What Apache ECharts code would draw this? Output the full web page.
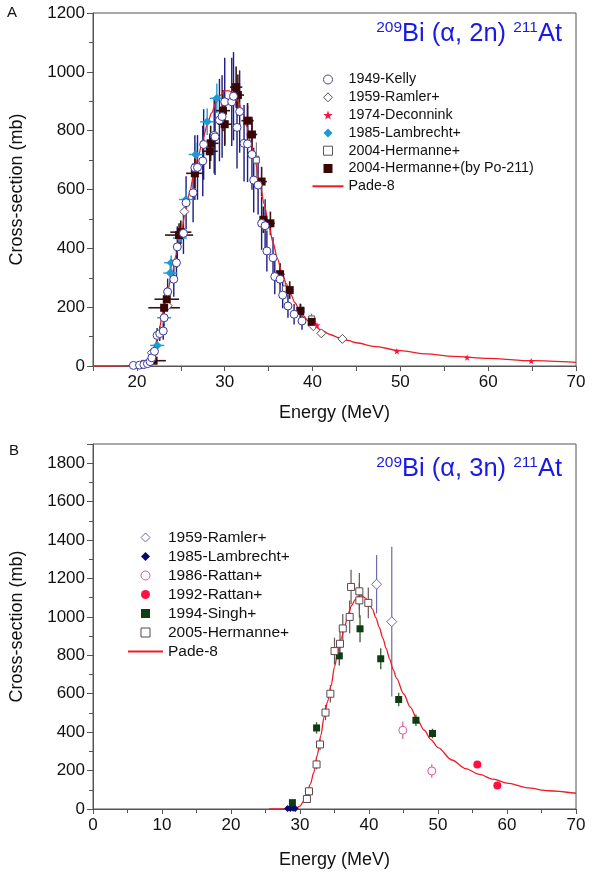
<!DOCTYPE html>
<html><head><meta charset="utf-8">
<script src="https://cdn.jsdelivr.net/npm/echarts@6/dist/echarts.min.js"></script>
<style>html,body{margin:0;padding:0;background:#fff}#c{width:600px;height:874px}</style>
</head><body><div id="c"></div>
<script>
// ---------- Panel A : 209Bi(a,2n)211At  [E, sigma, dE, dSigma] ----------
const kellyA = [[19.6,2,0,2],[20.3,3,0,3],[20.8,5,0,4],[21.2,8,0,6],[21.5,15,0,10],[21.7,28,0,15],[22.0,50,0,20],[22.3,104,0,25],[22.6,110,0,25],[23.0,119,0,30],[23.1,164,0,30],[23.5,252,0,45],[24.2,295,0,60],[24.5,351,0,60],[24.6,405,0,70],[25.3,451,0,70],[25.6,555,0,90],[26.4,589,0,100],[26.6,674,0,110],[26.9,675,0,110],[27.5,697,0,120],[27.6,753,0,120],[28.8,784,0,130],[28.9,779,0,130],[29.4,836,0,140],[29.7,848,0,140],[30.0,898,0,150],[30.8,898,0,150],[31.0,917,0,150],[31.4,811,0,140],[31.7,865,0,140],[32.2,757,0,130],[32.6,755,0,130],[33.1,719,0,120],[33.3,632,0,110],[33.8,615,0,100],[34.2,485,0,90],[34.6,477,0,90],[34.8,391,0,70],[35.5,368,0,70],[35.7,304,0,60],[36.3,295,0,55],[36.6,241,0,45],[37.2,204,0,40],[37.9,176,0,35],[38.8,153,0,30]];
const ramlerA = [[21.7,45,0,0],[23.5,205,0,0],[25.4,525,0,0],[40.1,135,0,0],[41.0,111,0,0],[43.4,92,0,0]];
const deconninkA = [[40.5,139,0,0],[49.6,50,0,0],[57.6,29,0,0],[64.9,17,0,0]];
const lambrechtA = [[22.3,70,0.8,15],[23.1,164,0.8,20],[23.8,316,0.8,25],[23.9,351,0.8,25],[24.9,435,0.8,30],[25.6,566,0.8,35],[26.7,719,0.8,40],[28.0,830,0.8,45],[29.1,910,0.8,50]];
const hermanneA = [[20.3,2,0.3,2],[21.0,8,0.3,4],[21.8,30,0.3,8],[33.6,700,0.3,60],[36.9,262,0.3,25],[38.7,190,0.3,20],[39.9,160,0.3,18]];
const hermannePoA = [[21.9,18,1.4,10],[23.1,198,1.8,40],[23.4,227,1.4,40],[24.8,445,1.6,40],[25.0,455,1.2,40],[26.6,655,1.0,50],[28.3,730,0.9,60],[28.4,757,0.9,60],[29.8,868,0.8,70],[30.0,822,0.8,70],[31.3,948,0.7,70],[31.5,921,0.7,70],[32.6,834,0.7,60],[33.1,787,0.6,60],[34.2,627,0.6,50],[34.4,497,0.5,45],[35.2,485,0.5,40],[36.3,312,0.5,35],[37.4,258,0.4,30],[38.6,187,0.4,25],[39.9,150,0.4,20]];
const padeA = [[15,0],[17,0],[18,0.5],[19,1],[20,4],[21,15],[21.5,30],[22,60],[22.5,120],[23,190],[23.5,255],[24,315],[24.5,380],[25,445],[25.5,520],[26,590],[26.5,655],[27,715],[27.5,770],[28,820],[28.5,860],[29,895],[29.5,920],[30,935],[30.5,935],[31,925],[31.5,900],[32,865],[32.5,815],[33,755],[33.5,690],[34,620],[34.5,550],[35,480],[35.5,420],[36,365],[36.5,320],[37,280],[37.5,245],[38,215],[38.5,190],[39,170],[39.5,153],[40,142],[41,122],[42,107],[43,96],[44,87],[45,79],[47,67],[50,52],[53,41],[56,33],[60,26],[65,18],[70,12]];

// ---------- Panel B : 209Bi(a,3n)211At ----------
const ramlerB = [[41.1,1170,0,152],[43.3,975,0,390]];
const lambrechtB = [[28.2,2,0,0],[28.6,3,0,0],[29.0,4,0,0],[29.3,3,0,0]];
const rattan86B = [[44.9,410,0,45],[49.1,198,0,35]];
const rattan92B = [[55.7,232,0,0],[58.6,122,0,0]];
const singhB = [[28.9,33,0,0],[32.4,422,0,30],[35.7,797,0,50],[38.7,938,0,70],[41.7,782,0,55],[44.3,570,0,35],[46.8,462,0,30],[49.2,393,0,25]];
const hermanneB = [[31.0,52,0.5,15],[31.3,92,0.6,20],[32.4,232,0.5,25],[32.9,336,0.5,30],[33.7,502,0.5,40],[34.4,600,0.5,45],[35.0,822,0.4,70],[35.8,860,0.4,70],[36.2,940,0.4,75],[37.2,1000,0.4,85],[37.4,1156,0.4,90],[38.6,1133,0.4,95],[38.6,1086,0.4,90],[39.9,1073,0.4,80]];
const padeB = [[25.5,0],[28,0],[29,2],[29.5,5],[30,15],[30.5,40],[31,80],[31.5,130],[32,190],[32.5,280],[33,380],[33.5,480],[34,560],[34.5,640],[35,740],[35.5,820],[36,890],[36.5,955],[37,1020],[37.5,1060],[38,1090],[38.5,1108],[39,1110],[39.5,1098],[40,1075],[40.5,1040],[41,995],[41.5,945],[42,890],[42.5,835],[43,780],[43.5,725],[44,680],[45,600],[46,530],[47,465],[48,410],[49,360],[50,320],[52,255],[54,210],[56,180],[58,155],[60,135],[63,110],[66,95],[70,82]];

const FONT = '"Liberation Sans", Arial, Helvetica, sans-serif';
const TXT = '#111';
const AX = '#555';
const DIAMOND = 'path://M0,-1L1,0L0,1L-1,0Z';
const SQUARE = 'path://M0,0L1,0L1,1L0,1Z';
const STAR = 'path://M0,-10L2.35,-3.24L9.51,-3.09L3.8,1.24L5.88,8.09L0,4L-5.88,8.09L-3.8,1.24L-9.51,-3.09L-2.35,-3.24Z';

function pts(d){ return d.map(r => [r[0], r[1]]); }
function errSeries(data, gi, color, width){
  return {
    type:'custom', xAxisIndex:gi, yAxisIndex:gi, data:data, clip:true, silent:true, z:2,
    encode:{x:0, y:1},
    renderItem:function(params, api){
      const x=api.value(0), y=api.value(1), dx=api.value(2), dy=api.value(3);
      const ch=[];
      if (dy>0){ const a=api.coord([x,y-dy]), b=api.coord([x,y+dy]);
        ch.push({type:'line', shape:{x1:a[0],y1:a[1],x2:b[0],y2:b[1]}, style:{stroke:color, lineWidth:width}}); }
      if (dx>0){ const a=api.coord([x-dx,y]), b=api.coord([x+dx,y]);
        ch.push({type:'line', shape:{x1:a[0],y1:a[1],x2:b[0],y2:b[1]}, style:{stroke:color, lineWidth:width}}); }
      return {type:'group', children:ch};
    }
  };
}
function sc(name, data, gi, symbol, size, fill, border, bw){
  return {type:'scatter', name:name, xAxisIndex:gi, yAxisIndex:gi, data:pts(data), symbol:symbol, symbolSize:size,
    symbolKeepAspect:true, z:4, itemStyle:{color:fill, borderColor:border, borderWidth:bw, opacity:1}};
}

const BLUE = '#1a1ae6';
const titleRich = ()=>({s:{fontSize:15.5, color:BLUE, fontFamily:FONT, fontWeight:'normal', verticalAlign:'top', lineHeight:15},
                        m:{fontSize:25.5, color:BLUE, fontFamily:FONT, fontWeight:'normal', lineHeight:28}});

function xAxisCfg(gi, min, interval, minor, gap){
  return {gridIndex:gi, type:'value', min:min, max:70, interval:interval,
    axisLine:{onZero:false, lineStyle:{color:AX, width:1}},
    axisTick:{length:5, lineStyle:{color:AX}},
    minorTick:{show:minor, splitNumber:2, length:4, lineStyle:{color:AX}},
    splitLine:{show:false}, minorSplitLine:{show:false},
    axisLabel:{color:TXT, fontSize:17, fontFamily:FONT, margin:8, formatter:v => (v%10===0 ? String(v) : '')},
    name:'Energy (MeV)', nameLocation:'middle', nameGap:gap, nameTextStyle:{color:TXT, fontSize:18, fontFamily:FONT}};
}
function yAxisCfg(gi, max){
  return {gridIndex:gi, type:'value', min:0, max:max, interval:200,
    axisLine:{show:true, onZero:false, lineStyle:{color:AX, width:1}},
    axisTick:{show:true, length:6, lineStyle:{color:AX}},
    minorTick:{show:true, splitNumber:2, length:4, lineStyle:{color:AX}},
    splitLine:{show:false}, minorSplitLine:{show:false},
    axisLabel:{color:TXT, fontSize:17, fontFamily:FONT, margin:8, formatter:v => (v%200===0 ? String(v) : '')},
    name:'Cross-section (mb)', nameLocation:'middle', nameGap:67, nameTextStyle:{color:TXT, fontSize:18, fontFamily:FONT}};
}
const noIcon = {color:'rgba(0,0,0,0)', borderColor:'rgba(0,0,0,0)', borderWidth:0, opacity:0};

const option = {
  animation:false,
  backgroundColor:'#fff',
  textStyle:{fontFamily:FONT},
  grid:[
    {left:93, top:13, width:483, height:353, show:true, borderColor:AX, borderWidth:1, backgroundColor:'transparent'},
    {left:93, top:444, width:483, height:365, show:true, borderColor:AX, borderWidth:1, backgroundColor:'transparent'}
  ],
  xAxis:[ xAxisCfg(0, 15, 5, false, 38), xAxisCfg(1, 0, 10, true, 42) ],
  yAxis:[ yAxisCfg(0, 1200), yAxisCfg(1, 1900) ],
  title:[
    {text:'{s|209}{m|Bi (α, 2n) }{s|211}{m|At}', right:33, top:15, textStyle:{fontWeight:'normal', rich:titleRich()}},
    {text:'{s|209}{m|Bi (α, 3n) }{s|211}{m|At}', right:33, top:450, textStyle:{fontWeight:'normal', rich:titleRich()}}
  ],
  graphic:[
    {type:'text', left:7, top:5, style:{text:'A', fontSize:15, fill:TXT, fontFamily:FONT}},
    {type:'text', left:9, top:443, style:{text:'B', fontSize:15, fill:TXT, fontFamily:FONT}}
  ],
  legend:[
    {orient:'vertical', left:306.5, top:67.5, padding:5, itemWidth:31, itemHeight:9, itemGap:3.8, symbolKeepAspect:true,
     selectedMode:false,
     textStyle:{color:TXT, fontSize:14.3, lineHeight:14, fontFamily:FONT},
     data:[
       {name:'1949-Kelly', icon:'circle', itemStyle:{color:'#fff', borderColor:'#4a4aa0', borderWidth:1}},
       {name:'1959-Ramler+', icon:DIAMOND, itemStyle:{color:'#fff', borderColor:'#555', borderWidth:1}},
       {name:'1974-Deconnink', icon:STAR, itemStyle:{color:'#ff1040', borderWidth:0}},
       {name:'1985-Lambrecht+', icon:DIAMOND, itemStyle:{color:'#1c9ad6', borderWidth:0}},
       {name:'2004-Hermanne+', icon:SQUARE, itemStyle:{color:'#fff', borderColor:'#555', borderWidth:1}},
       {name:'2004-Hermanne+(by Po-211)', icon:SQUARE, itemStyle:{color:'#3a0505', borderWidth:0}},
       {name:'Pade-8', itemStyle:noIcon}
     ]},
    {orient:'vertical', left:122, top:524.5, padding:5, itemWidth:35, itemHeight:9, itemGap:3, symbolKeepAspect:true,
     selectedMode:false,
     textStyle:{color:TXT, fontSize:15.5, lineHeight:14.5, fontFamily:FONT},
     data:[
       {name:'1959-Ramler+', icon:DIAMOND, itemStyle:{color:'#fff', borderColor:'#6b6bb0', borderWidth:1}},
       {name:'1985-Lambrecht+', icon:DIAMOND, itemStyle:{color:'#0a0a6e', borderWidth:0}},
       {name:'1986-Rattan+', icon:'circle', itemStyle:{color:'#fff', borderColor:'#d65aa0', borderWidth:1}},
       {name:'1992-Rattan+', icon:'circle', itemStyle:{color:'#ff1040', borderWidth:0}},
       {name:'1994-Singh+', icon:SQUARE, itemStyle:{color:'#0d3d10', borderWidth:0}},
       {name:'2005-Hermanne+', icon:SQUARE, itemStyle:{color:'#fff', borderColor:'#5a4a4a', borderWidth:1}},
       {name:'Pade-8', itemStyle:noIcon}
     ]}
  ],
  series:[
    // Panel A
    {type:'line', name:'Pade-8', xAxisIndex:0, yAxisIndex:0, data:padeA, showSymbol:false, symbol:'none', smooth:0.3, smoothMonotone:'x',
     lineStyle:{color:'#ee1c25', width:1.3}, itemStyle:{color:'#ee1c25'}, z:3},
    errSeries(kellyA, 0, '#1c1c80', 1.4),
    errSeries(lambrechtA, 0, '#1c9ad6', 1.4),
    errSeries(hermanneA, 0, '#666', 1),
    errSeries(hermannePoA, 0, '#3a1414', 1.6),
    sc('2004-Hermanne+', hermanneA, 0, 'rect', 6, '#fff', '#555', 1),
    sc('1959-Ramler+', ramlerA, 0, 'diamond', 9, '#fff', '#555', 1),
    sc('1985-Lambrecht+', lambrechtA, 0, 'diamond', 9, '#1c9ad6', '#1c9ad6', 0),
    sc('2004-Hermanne+(by Po-211)', hermannePoA, 0, 'rect', 8, '#3a0505', '#3a0505', 0),
    sc('1949-Kelly', kellyA, 0, 'circle', 8, '#fff', '#3a3a9a', 1),
    sc('1974-Deconnink', deconninkA, 0, STAR, 7, '#ff1040', '#ff1040', 0),
    // Panel B
    {type:'line', name:'Pade-8', xAxisIndex:1, yAxisIndex:1, data:padeB, showSymbol:false, symbol:'none', smooth:0.3, smoothMonotone:'x',
     lineStyle:{color:'#ee1c25', width:1.3}, itemStyle:{color:'#ee1c25'}, z:3},
    errSeries(ramlerB, 1, '#6b6bb0', 1.2),
    errSeries(rattan86B, 1, '#d65aa0', 1.2),
    errSeries(singhB, 1, '#3f6b3f', 1.4),
    errSeries(hermanneB, 1, '#6a5555', 1.2),
    sc('1959-Ramler+', ramlerB, 1, 'diamond', 10, '#fff', '#6b6bb0', 1),
    sc('1985-Lambrecht+', lambrechtB, 1, 'diamond', 7, '#0a0a6e', '#0a0a6e', 0),
    sc('1986-Rattan+', rattan86B, 1, 'circle', 8, '#fff', '#d65aa0', 1),
    sc('1992-Rattan+', rattan92B, 1, 'circle', 8, '#ff1040', '#ff1040', 0),
    sc('1994-Singh+', singhB, 1, 'rect', 7, '#0d3d10', '#0d3d10', 0),
    sc('2005-Hermanne+', hermanneB, 1, 'rect', 7, '#fff', '#5a4a4a', 1)
  ]
};
const chart = echarts.init(document.getElementById('c'), null, {renderer:'canvas'});
chart.setOption(option);
</script></body></html>
